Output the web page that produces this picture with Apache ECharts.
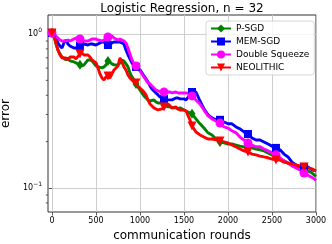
<!DOCTYPE html>
<html>
<head>
<meta charset="utf-8">
<script src="https://cdn.jsdelivr.net/npm/echarts@6/dist/echarts.min.js"></script>
<style>
html,body{margin:0;padding:0;background:#fff;}
#c{width:332px;height:244px;}
</style>
</head>
<body>
<div id="c"></div>
<script>
// communication rounds (shared x grid)
const rounds = [
  0, 23, 45, 68, 91, 114, 136, 159, 182, 205,
  227, 250, 273, 295, 318, 341, 364, 386, 409, 432,
  455, 477, 500, 523, 545, 568, 591, 614, 636, 659,
  682, 705, 727, 750, 773, 795, 818, 841, 864, 886,
  909, 932, 955, 977, 1000, 1023, 1045, 1068, 1091, 1114,
  1136, 1159, 1182, 1205, 1227, 1250, 1273, 1295, 1318, 1341,
  1364, 1386, 1409, 1432, 1455, 1477, 1500, 1523, 1545, 1568,
  1591, 1636, 1682, 1727, 1773, 1818, 1864, 1909, 1955, 2000,
  2045, 2091, 2136, 2182, 2227, 2273, 2318, 2364, 2409, 2455,
  2500, 2545, 2591, 2636, 2682, 2727, 2773, 2818, 2864, 2909,
  2955, 3000
];
const pSGD = [
  1.015, 0.97, 0.861, 0.787, 0.742, 0.709, 0.699, 0.678, 0.699, 0.668,
  0.649, 0.658, 0.649, 0.639, 0.63, 0.62, 0.63, 0.649, 0.678, 0.678,
  0.668, 0.649, 0.62, 0.611, 0.602, 0.602, 0.611, 0.63, 0.668, 0.658,
  0.639, 0.63, 0.62, 0.63, 0.649, 0.678, 0.668, 0.639, 0.611, 0.559,
  0.526, 0.503, 0.474, 0.453, 0.433, 0.414, 0.396, 0.384, 0.373, 0.367,
  0.367, 0.373, 0.362, 0.356, 0.351, 0.356, 0.346, 0.341, 0.336, 0.336,
  0.331, 0.336, 0.331, 0.326, 0.331, 0.326, 0.321, 0.316, 0.312, 0.307,
  0.303, 0.281, 0.261, 0.245, 0.228, 0.221, 0.208, 0.199, 0.196, 0.193,
  0.193, 0.19, 0.187, 0.185, 0.185, 0.182, 0.179, 0.177, 0.174, 0.169,
  0.164, 0.159, 0.154, 0.15, 0.145, 0.141, 0.139, 0.135, 0.133, 0.129,
  0.125, 0.119
];
const memSGD = [
  1.015, 0.985, 0.942, 0.874, 0.836, 0.811, 0.874, 0.914, 0.861, 0.836,
  0.823, 0.811, 0.811, 0.823, 0.836, 0.848, 0.861, 0.836, 0.848, 0.861,
  0.861, 0.874, 0.848, 0.861, 0.874, 0.887, 0.887, 0.861, 0.848, 0.861,
  0.874, 0.887, 0.9, 0.887, 0.887, 0.887, 0.861, 0.787, 0.731, 0.689,
  0.649, 0.62, 0.611, 0.602, 0.584, 0.559, 0.534, 0.511, 0.488, 0.46,
  0.44, 0.427, 0.414, 0.402, 0.39, 0.384, 0.379, 0.373, 0.373, 0.373,
  0.373, 0.379, 0.384, 0.384, 0.379, 0.384, 0.379, 0.373, 0.379, 0.402,
  0.42, 0.42, 0.367, 0.326, 0.298, 0.285, 0.277, 0.277, 0.268, 0.261,
  0.261, 0.249, 0.242, 0.231, 0.224, 0.211, 0.205, 0.205, 0.199, 0.193,
  0.187, 0.182, 0.177, 0.166, 0.159, 0.147, 0.141, 0.137, 0.137, 0.137,
  0.131, 0.129
];
const doubleSqueeze = [
  1.015, 1.0, 0.97, 0.942, 0.914, 0.9, 0.887, 0.9, 0.914, 0.9,
  0.914, 0.928, 0.942, 0.956, 0.928, 0.914, 0.9, 0.887, 0.9, 0.914,
  0.928, 0.914, 0.928, 0.914, 0.914, 0.9, 0.914, 0.928, 0.956, 0.97,
  0.97, 0.942, 0.928, 0.914, 0.928, 0.914, 0.9, 0.874, 0.811, 0.742,
  0.678, 0.639, 0.62, 0.602, 0.576, 0.55, 0.526, 0.503, 0.481, 0.474,
  0.46, 0.446, 0.433, 0.427, 0.427, 0.42, 0.42, 0.414, 0.42, 0.42,
  0.414, 0.42, 0.42, 0.414, 0.414, 0.42, 0.414, 0.414, 0.414, 0.408,
  0.396, 0.373, 0.351, 0.321, 0.294, 0.281, 0.272, 0.264, 0.249, 0.245,
  0.235, 0.228, 0.214, 0.205, 0.196, 0.19, 0.185, 0.185, 0.179, 0.174,
  0.169, 0.164, 0.157, 0.15, 0.145, 0.139, 0.135, 0.131, 0.125, 0.121,
  0.117, 0.112
];
const neolithic = [
  1.015, 0.97, 0.874, 0.787, 0.731, 0.699, 0.689, 0.699, 0.678, 0.709,
  0.699, 0.709, 0.689, 0.709, 0.742, 0.753, 0.731, 0.72, 0.731, 0.709,
  0.678, 0.689, 0.649, 0.602, 0.55, 0.518, 0.503, 0.526, 0.534, 0.518,
  0.55, 0.584, 0.593, 0.62, 0.699, 0.658, 0.611, 0.584, 0.542, 0.518,
  0.503, 0.488, 0.481, 0.46, 0.446, 0.433, 0.42, 0.402, 0.373, 0.351,
  0.341, 0.331, 0.326, 0.321, 0.316, 0.326, 0.336, 0.346, 0.351, 0.341,
  0.331, 0.331, 0.336, 0.326, 0.321, 0.326, 0.321, 0.316, 0.312, 0.277,
  0.253, 0.231, 0.221, 0.214, 0.208, 0.208, 0.205, 0.202, 0.199, 0.196,
  0.19, 0.185, 0.179, 0.174, 0.171, 0.166, 0.164, 0.161, 0.159, 0.157,
  0.154, 0.152, 0.152, 0.147, 0.145, 0.143, 0.141, 0.139, 0.137, 0.135,
  0.133, 0.129
];
// rounds at which markers are drawn
const markerRounds = [0, 318, 636, 955, 1273, 1591, 1909, 2227, 2545, 2864];
const xTicks = [0, 500, 1000, 1500, 2000, 2500, 3000];
const yTicks = [0.1, 1];
const yMinorTicks = [0.08, 0.09, 0.2, 0.3, 0.4, 0.5, 0.6, 0.7, 0.8, 0.9];
const seriesNames = ['P-SGD', 'MEM-SGD', 'Double Squeeze', 'NEOLITHIC'];

const FONT = 'DejaVu Sans';
const X_MIN = -45, X_MAX = 3000, Y_MIN = 0.0698, Y_MAX = 1.328;

function build(vals) {
  return rounds.map((r, i) => markerRounds.indexOf(r) >= 0
    ? { value: [r, vals[i]] }
    : { value: [r, vals[i]], symbol: 'none' });
}

const styles = [
  { color: '#008000', symbol: 'diamond', symbolSize: [7, 10], symbolRotate: 0 },
  { color: '#0000ff', symbol: 'rect', symbolSize: 8, symbolRotate: 0 },
  { color: '#ff00ff', symbol: 'circle', symbolSize: 9, symbolRotate: 0 },
  { color: '#ff0000', symbol: 'triangle', symbolSize: 9, symbolRotate: 180 }
];
const values = [pSGD, memSGD, doubleSqueeze, neolithic];

const lineSeries = seriesNames.map((name, k) => ({
  name: name,
  type: 'line',
  data: build(values[k]),
  symbol: styles[k].symbol,
  symbolSize: styles[k].symbolSize,
  symbolRotate: styles[k].symbolRotate,
  showSymbol: true,
  showAllSymbol: true,
  lineStyle: { color: styles[k].color, width: 2.9 },
  itemStyle: { color: styles[k].color },
  emphasis: { disabled: true },
  clip: true
}));

const minorTickSeries = {
  type: 'custom',
  silent: true,
  data: yMinorTicks.map(v => [X_MIN, v]),
  encode: { x: 0, y: 1 },
  renderItem: function (params, api) {
    const p = api.coord([api.value(0), api.value(1)]);
    return {
      type: 'line',
      shape: { x1: p[0] - 2.2, y1: p[1], x2: p[0], y2: p[1] },
      style: { stroke: '#333', lineWidth: 0.8 }
    };
  },
  z: 10
};

const chart = echarts.init(document.getElementById('c'), null, { renderer: 'canvas' });
chart.setOption({
  animation: false,
  backgroundColor: '#fff',
  textStyle: { fontFamily: FONT },
  title: {
    text: 'Logistic Regression, n = 32',
    left: 182, top: 3, padding: 0,
    textAlign: 'center',
    textStyle: { fontFamily: FONT, fontSize: 12, fontWeight: 'normal', color: '#000' }
  },
  legend: {
    data: seriesNames,
    orient: 'vertical',
    left: 206, top: 21,
    padding: [3, 5, 3, 4],
    itemWidth: 20, itemHeight: 10, itemGap: 4,
    backgroundColor: 'rgba(255,255,255,0.8)',
    borderColor: '#cccccc', borderWidth: 0.8, borderRadius: 3,
    textStyle: { fontFamily: FONT, fontSize: 9, color: '#000', padding: [0, 0, 0, 0] },
    selectedMode: false
  },
  grid: {
    left: 48, right: 16, top: 15, bottom: 32,
    show: true, borderColor: '#333', borderWidth: 1,
    backgroundColor: 'transparent',
    containLabel: false,
    outerBoundsMode: 'none'
  },
  xAxis: {
    type: 'value', min: X_MIN, max: X_MAX,
    name: 'communication rounds', nameLocation: 'middle', nameGap: 10,
    nameTextStyle: { fontFamily: FONT, fontSize: 12, color: '#000' },
    axisLine: { show: false },
    axisTick: { show: true, length: 3.5, lineStyle: { color: '#333', width: 0.8 }, customValues: xTicks },
    axisLabel: {
      fontFamily: FONT, fontSize: 8, color: '#000', margin: 5, customValues: xTicks,
      formatter: v => (xTicks.indexOf(v) >= 0 ? String(v) : '')
    },
    splitLine: { show: true, lineStyle: { color: '#c8c8c8', width: 0.9 } }
  },
  yAxis: {
    type: 'log', logBase: 10, min: Y_MIN, max: Y_MAX,
    name: 'error', nameLocation: 'middle', nameGap: 28, nameRotate: 90,
    nameTextStyle: { fontFamily: FONT, fontSize: 12, color: '#000' },
    axisLine: { show: false },
    axisTick: { show: true, length: 3.5, lineStyle: { color: '#333', width: 0.8 }, customValues: yTicks },
    axisLabel: {
      fontFamily: FONT, fontSize: 8, color: '#000', margin: 6, customValues: yTicks,
      formatter: function (v) {
        const e = Math.log10(v);
        if (Math.abs(e - Math.round(e)) > 1e-6) return '';
        const n = Math.round(e);
        return '{b|10}{s|' + (n < 0 ? '\u2212' + (-n) : n) + '}';
      },
      rich: {
        b: { fontFamily: FONT, fontSize: 8, color: '#000' },
        s: { fontFamily: FONT, fontSize: 6, color: '#000', lineHeight: 6, padding: [0, 0, 8, 0] }
      }
    },
    splitLine: { show: true, lineStyle: { color: '#c8c8c8', width: 0.9 } }
  },
  series: lineSeries.concat([minorTickSeries])
});
</script>
</body>
</html>
